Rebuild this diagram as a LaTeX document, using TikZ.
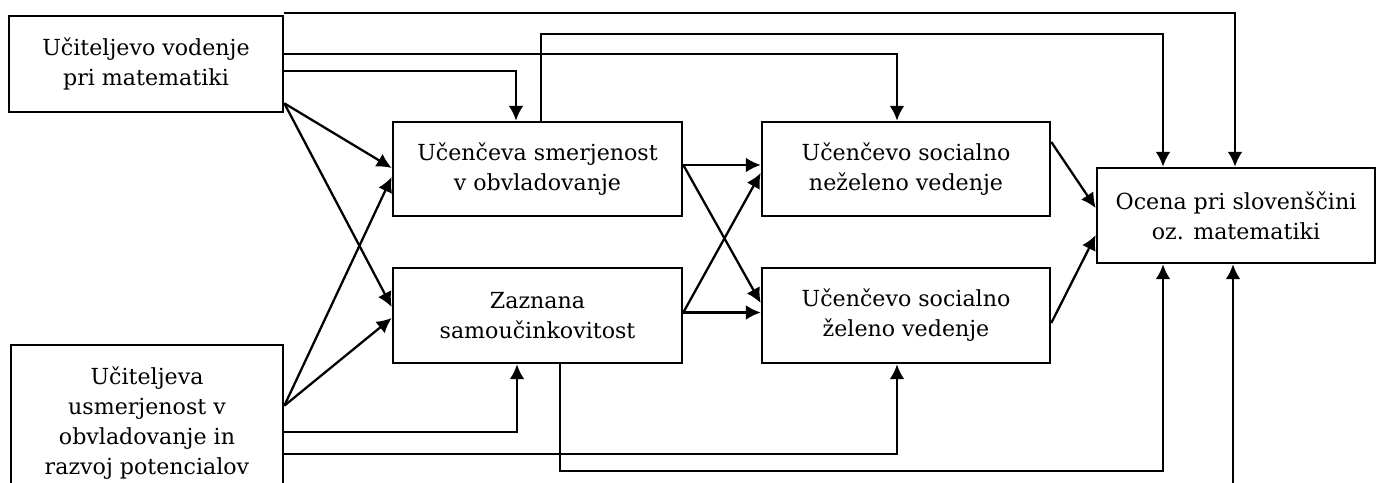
\documentclass[tikz,border=0pt]{standalone}
\usepackage{fontspec}
\setmainfont{DejaVu Serif}
\usetikzlibrary{calc, arrows.meta}

\begin{document}
\begin{tikzpicture}[x=0.02cm, y=-0.02cm,
    box/.style={draw, line width=1.5pt, align=center, inner sep=0pt,
      font=\fontsize{12.6}{17}\selectfont}]

  \tikzset{ptr/.style={line width=1.3pt, ->, >={Latex[length=8.5pt, width=8.5pt]}}}

  \useasboundingbox (0, 0) rectangle (1376, 483);

  % boxes
  \node[box, minimum width=5.48cm, minimum height=1.92cm] at (146, 64) (vod) {Učiteljevo vodenje\\pri matematiki};
  \node[box, minimum width=5.44cm, minimum height=3.12cm] at (147, 423) (usm) {Učiteljeva\\usmerjenost v\\obvladovanje in\\razvoj potencialov};
  \node[box, minimum width=5.78cm, minimum height=1.88cm] at (537.5, 169) (smer) {Učenčeva smerjenost\\v obvladovanje};
  \node[box, minimum width=5.78cm, minimum height=1.9cm] at (537.5, 315.5) (samo) {Zaznana\\samoučinkovitost};
  \node[box, minimum width=5.76cm, minimum height=1.88cm] at (906, 169) (nezel) {Učenčevo socialno\\neželeno vedenje};
  \node[box, minimum width=5.76cm, minimum height=1.9cm] at (906, 315.5) (zel) {Učenčevo socialno\\želeno vedenje};
  \node[box, minimum width=5.56cm, minimum height=1.9cm] at (1236, 215.5) (ocena) {Ocena pri slovenščini\\oz. matematiki};

  % from teacher guidance
  \draw[ptr] ($(vod.north east)+(0, -2)$) -| ($(ocena.north)+(-1, 0)$);
  \draw[ptr] ($(vod.north east)+(0, 39)$) -| ($(nezel.north)+(-9, 0)$);
  \draw[ptr] ($(vod.north east)+(0, 56)$) -| ($(smer.north)+(-21.5, 0)$);
  \draw[ptr] ($(vod.south east)+(0, -10)$) -- ($(smer.west)+(0, -1)$);
  \draw[ptr] ($(vod.south east)+(0, -10)$) -- ($(samo.west)+(0, -8.5)$);

  % from teacher orientation
  \draw[ptr] ($(usm.north east)+(0, 62)$) -- ($(smer.west)+(0, 8)$);
  \draw[ptr] ($(usm.north east)+(0, 62)$) -- ($(samo.west)+(0, 2.5)$);
  \draw[ptr] ($(usm.north east)+(0, 88)$) -| ($(samo.south)+(-20.5, 0)$);
  \draw[ptr] ($(usm.north east)+(0, 110)$) -| ($(zel.south)+(-9, 0)$);

  % mastery goal
  \draw[ptr] ($(smer.north)+(3.5, 0)$) -- ++(0, -87) -| ($(ocena.north)+(-73, 0)$);
  \draw[ptr] ($(smer.east)+(0, -4)$) -- ($(nezel.west)+(0, -4)$);
  \draw[ptr] ($(smer.east)+(0, -4)$) -- ($(zel.west)+(0, -12.5)$);

  % self-efficacy
  \draw[ptr] ($(samo.east)+(0, -3)$) -- ($(zel.west)+(0, -3)$);
  \draw[ptr] ($(samo.east)+(0, -3)$) -- ($(nezel.west)+(0, 4)$);
  \draw[ptr] ($(samo.south)+(22.5, 0)$) -- ++(0, 107) -| ($(ocena.south)+(-73, 0)$);

  % behaviour to grade
  \draw[ptr] ($(nezel.east)+(0, -27)$) -- ($(ocena.west)+(0, -7.5)$);
  \draw[ptr] ($(zel.east)+(0, 7.5)$) -- ($(ocena.west)+(0, 19.5)$);
  \coordinate (feed) at (1233, 490);
  \draw[ptr] (feed) -- (feed |- ocena.south);
\end{tikzpicture}
\end{document}
